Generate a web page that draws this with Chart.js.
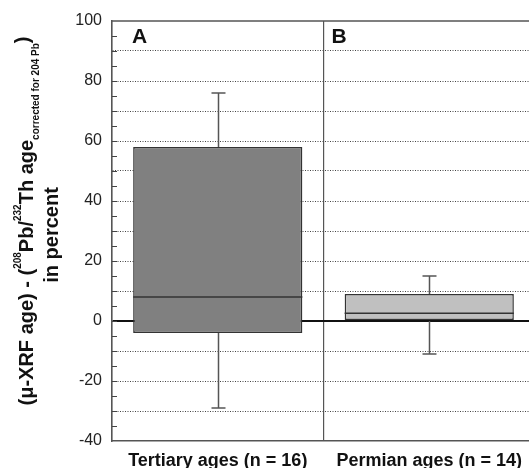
<!DOCTYPE html>
<html>
<head>
<meta charset="utf-8">
<script src="https://cdn.jsdelivr.net/npm/chart.js@4/dist/chart.umd.min.js"></script>
<style>
  html, body { margin: 0; padding: 0; background: #fff; overflow: hidden; width: 529px; height: 468px; }
  canvas { display: block; }
</style>
</head>
<body>
<canvas id="c" width="540" height="468"></canvas>
<script>
// ---- data ----
const categories = ['Tertiary ages (n = 16)', 'Permian ages (n = 14)'];
const panelLabels = ['A', 'B'];
const q1 = [-4, 0];
const q3 = [58, 9];
const medians = [8, 2.6];
const whiskerLow = [-29, -11];
const whiskerHigh = [76, 15];
const boxColors = ['#808080', '#c0c0c0'];
const yMin = -40, yMax = 100, yMinorStep = 5, yGridStep = 10, yLabelStep = 20;

const FONT = "'Liberation Sans', Arial, Helvetica, sans-serif";

const boxPlugin = {
  id: 'boxExtras',
  beforeDatasetsDraw(chart) {
    const ctx = chart.ctx, ys = chart.scales.y, a = chart.chartArea;
    // short inward ticks on left axis
    ctx.save();
    ctx.strokeStyle = '#444';
    ctx.lineWidth = 1;
    for (let v = yMin + yMinorStep; v < yMax; v += yMinorStep) {
      const y = Math.round(ys.getPixelForValue(v)) + 0.5;
      ctx.beginPath();
      ctx.moveTo(a.left, y);
      ctx.lineTo(a.left + 5, y);
      ctx.stroke();
    }
    ctx.restore();
  },
  afterDatasetsDraw(chart) {
    const ctx = chart.ctx, ys = chart.scales.y;
    const meta = chart.getDatasetMeta(0);
    ctx.save();
    meta.data.forEach((bar, i) => {
      const x = Math.round(bar.x) + 0.5;
      const half = bar.width / 2;
      // whiskers
      ctx.strokeStyle = '#555';
      ctx.lineWidth = 1.5;
      const yTop = ys.getPixelForValue(q3[i]);
      const yBot = ys.getPixelForValue(q1[i]);
      const yHi = ys.getPixelForValue(whiskerHigh[i]);
      const yLo = ys.getPixelForValue(whiskerLow[i]);
      ctx.beginPath();
      ctx.moveTo(x, yTop); ctx.lineTo(x, yHi);
      ctx.moveTo(x - 7, yHi); ctx.lineTo(x + 7, yHi);
      ctx.moveTo(x, yBot); ctx.lineTo(x, yLo);
      ctx.moveTo(x - 7, yLo); ctx.lineTo(x + 7, yLo);
      ctx.stroke();
      // median
      ctx.strokeStyle = '#333';
      ctx.lineWidth = 1.5;
      const ym = ys.getPixelForValue(medians[i]);
      ctx.beginPath();
      ctx.moveTo(bar.x - half, ym); ctx.lineTo(bar.x + half, ym);
      ctx.stroke();
    });
    ctx.restore();
  },
  afterDraw(chart) {
    const ctx = chart.ctx, xs = chart.scales.x, a = chart.chartArea;
    // top frame line
    ctx.save();
    ctx.strokeStyle = '#555';
    ctx.lineWidth = 1.5;
    ctx.beginPath();
    ctx.moveTo(a.left, a.top); ctx.lineTo(a.right, a.top);
    ctx.stroke();
    // panel labels
    ctx.fillStyle = '#111';
    ctx.font = 'bold 21px ' + FONT;
    ctx.textBaseline = 'alphabetic';
    const catW = (a.right - a.left) / categories.length;
    const offs = [20, 8];
    panelLabels.forEach((t, i) => {
      const left = xs.getPixelForValue(i) - catW / 2;
      ctx.fillText(t, left + offs[i], a.top + 22);
    });
    ctx.restore();

    // y axis title (rich text, rotated)
    const line1 = [
      { text: '(\u03bc-XRF age) - (', size: 20, dy: 0 },
      { text: '208', size: 10, dy: -12 },
      { text: 'Pb/', size: 20, dy: 0 },
      { text: '232', size: 10, dy: -12 },
      { text: 'Th age', size: 20, dy: 0 },
      { text: 'corrected for 204 Pb', size: 10, dy: 6 },
      { text: ')', size: 20, dy: -4 }
    ];
    const line2 = [{ text: 'in percent', size: 20, dy: 0 }];
    drawRich(ctx, line1, 33, 221);
    drawRich(ctx, line2, 58, 235);
  }
};

function drawRich(ctx, segs, bx, cy) {
  ctx.save();
  ctx.fillStyle = '#111';
  ctx.textBaseline = 'alphabetic';
  let total = 0;
  segs.forEach(s => { ctx.font = 'bold ' + s.size + 'px ' + FONT; s.w = ctx.measureText(s.text).width; total += s.w; });
  ctx.translate(bx, cy);
  ctx.rotate(-Math.PI / 2);
  let x = -total / 2;
  segs.forEach(s => {
    ctx.font = 'bold ' + s.size + 'px ' + FONT;
    ctx.fillText(s.text, x, s.dy);
    x += s.w;
  });
  ctx.restore();
}

function tickVal(c) { return c && c.tick ? c.tick.value : null; }

new Chart(document.getElementById('c'), {
  type: 'bar',
  data: {
    labels: categories,
    datasets: [{
      data: categories.map((_, i) => [q1[i], q3[i]]),
      backgroundColor: boxColors,
      borderColor: '#333',
      borderWidth: 1.5,
      borderSkipped: false,
      categoryPercentage: 0.8,
      barPercentage: 1.0
    }]
  },
  options: {
    responsive: false,
    animation: false,
    devicePixelRatio: 1,
    layout: { padding: { top: 21, right: 5, left: 0, bottom: 0 } },
    plugins: { legend: { display: false }, tooltip: { enabled: false } },
    scales: {
      x: {
        type: 'category',
        offset: true,
        grid: { offset: true, color: '#555', lineWidth: 1.2, drawTicks: false },
        border: { display: true, color: '#555', width: 1.5 },
        ticks: { color: '#111', font: { family: FONT, size: 18, weight: 'bold' }, padding: 9, maxRotation: 0 },
        afterFit(s) { s.height = 27; }
      },
      y: {
        min: yMin, max: yMax,
        afterFit(s) { s.width = 112; },
        ticks: {
          stepSize: yMinorStep,
          autoSkip: false,
          padding: 10,
          color: '#222',
          font: { family: FONT, size: 16 },
          callback: v => (v % yLabelStep === 0 ? String(v) : '')
        },
        grid: {
          drawTicks: false,
          color: c => {
            const v = tickVal(c);
            if (v === 0) return '#111';
            if (v === yMax) return 'rgba(0,0,0,0)';
            if (v === yMin) return 'rgba(0,0,0,0)';
            return v % yGridStep === 0 ? '#444' : 'rgba(0,0,0,0)';
          },
          lineWidth: c => (tickVal(c) === 0 ? 2 : 1)
        },
        border: {
          display: true, color: '#555', width: 1.5,
          dash: c => (tickVal(c) === 0 ? [] : [1, 1.5])
        }
      }
    }
  },
  plugins: [boxPlugin]
});
</script>
</body>
</html>
